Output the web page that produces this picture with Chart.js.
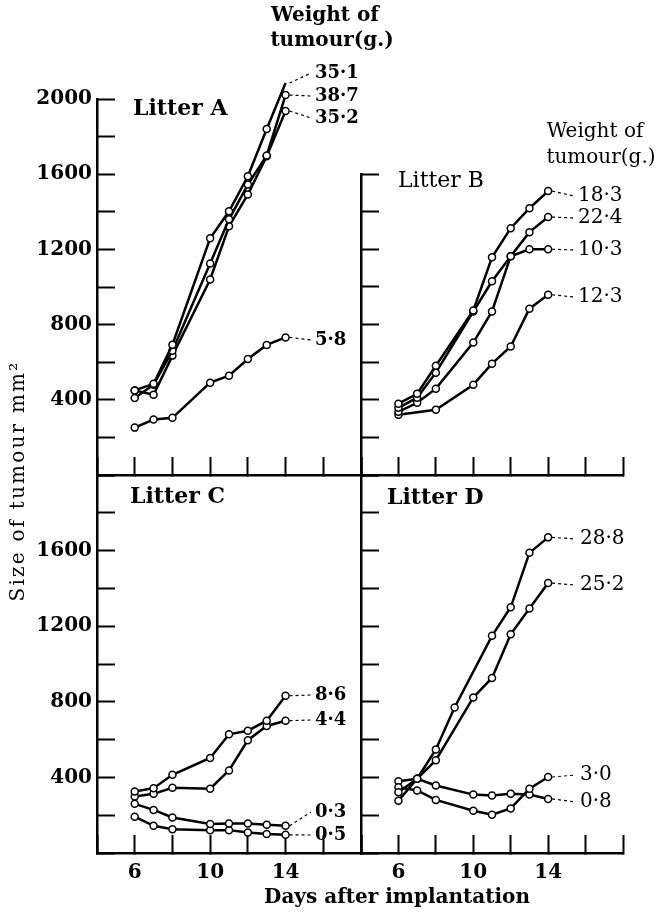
<!DOCTYPE html>
<html>
<head>
<meta charset="utf-8">
<script src="https://cdn.jsdelivr.net/npm/chart.js@4/dist/chart.umd.min.js"></script>
<style>
  html, body { margin: 0; padding: 0; background: #fff; }
  #wrap { position: relative; width: 659px; height: 912px; }
  #wrap canvas { position: absolute; left: 0; top: 0; }
</style>
</head>
<body>
<div id="wrap">
  <canvas id="cA" width="659" height="912"></canvas>
  <canvas id="cB" width="659" height="912"></canvas>
  <canvas id="cC" width="659" height="912"></canvas>
  <canvas id="cD" width="659" height="912"></canvas>
</div>
<script>
// days after implantation (null = no reading that day)
var days = [6, 7, 8, 9, 10, 11, 12, 13, 14];

// Litter A
var a351 = [450, 485, 693, null, 1259, 1403, 1589, 1840, 2085];
var a387 = [410, 480, 661, null, 1125, 1360, 1545, 1700, 2021];
var a352 = [450, 427, 635, null, 1040, 1323, 1492, 1696, 1936];
var a58  = [252, 295, 304, null, 491, 528, 617, 692, 732];
var weightsA = ['35·1', '38·7', '35·2', '5·8'];

// Litter B
var b183 = [379, 432, 581, null, 875, 1157, 1312, 1418, 1509];
var b224 = [357, 411, 544, null, 869, 1030, 1163, 1291, 1371];
var b103 = [336, 384, 459, null, 704, 869, 1163, 1200, 1200];
var b123 = [320, null, 347, null, 480, 592, 683, 884, 958];
var weightsB = ['18·3', '22·4', '10·3', '12·3'];

// Litter C
var c86 = [325, 343, 414, null, 503, 628, 647, 700, 832];
var c44 = [299, 313, 345, null, 340, 437, 597, 672, 700];
var c03 = [260, 228, 188, null, 153, 156, 156, 149, 144];
var c05 = [192, 144, 126, null, 121, 121, 108, 100, 96];
var weightsC = ['8·6', '4·4', '0·3', '0·5'];

// Litter D
var d288 = [277, 393, 548, 770, null, 1149, 1300, 1588, 1670];
var d252 = [322, 393, 491, null, 823, 926, 1157, 1294, 1428];
var d30  = [348, 331, 281, null, 224, 203, 236, 340, 402];
var d08  = [380, 393, 357, null, 309, 304, 313, 309, 286];
var weightsD = ['28·8', '25·2', '3·0', '0·8'];

var xLabelled = [6, 10, 14];

var SERIF = '"DejaVu Serif"';

function text(ctx, s, x, y, font, align, spacing) {
    ctx.save();
    ctx.font = font;
    ctx.fillStyle = '#000';
    ctx.textAlign = align || 'left';
    ctx.textBaseline = 'middle';
    if (spacing) ctx.letterSpacing = spacing;
    ctx.fillText(s, x, y);
    ctx.restore();
}

var panels = [
    { id: 'cA', box: { left: 97, top: 99, right: 361, bottom: 475 }, yMax: 2000, yLab: true, xLab: false,
      series: [a351, a387, a352, a58], weights: weightsA, labX: 315, labY: [73, 96, 118, 340],
      labFont: 'bold 18px ' + SERIF, title: 'Litter A', tx: 133, ty: 109, tFont: 'bold 22px ' + SERIF,
      extra: function (ctx) {
          text(ctx, 'Weight of', 325, 16, 'bold 20px ' + SERIF, 'center');
          text(ctx, 'tumour(g.)', 332, 41, 'bold 20px ' + SERIF, 'center');
      } },
    { id: 'cB', box: { left: 361, top: 174, right: 623, bottom: 475 }, yMax: 1600, yLab: false, xLab: false,
      series: [b183, b224, b103, b123], weights: weightsB, labX: 578, labY: [196, 218, 250, 297],
      labFont: '20px ' + SERIF, title: 'Litter B', tx: 398, ty: 181, tFont: '22px ' + SERIF,
      extra: function (ctx) {
          text(ctx, 'Weight of', 595, 132, '20px ' + SERIF, 'center');
          text(ctx, 'tumour(g.)', 601, 158, '20px ' + SERIF, 'center');
      } },
    { id: 'cC', box: { left: 97, top: 475, right: 361, bottom: 853 }, yMax: 2000, yLab: true, xLab: true,
      series: [c86, c44, c03, c05], weights: weightsC, labX: 315, labY: [695, 720, 812, 835],
      labFont: 'bold 18px ' + SERIF, title: 'Litter C', tx: 130, ty: 497, tFont: 'bold 22px ' + SERIF,
      extra: function (ctx) {
          ctx.save();
          ctx.translate(19, 481);
          ctx.rotate(-Math.PI / 2);
          text(ctx, 'Size of tumour mm²', 0, 0, '20px ' + SERIF, 'center', '2.2px');
          ctx.restore();
      } },
    { id: 'cD', box: { left: 361, top: 475, right: 623, bottom: 853 }, yMax: 2000, yLab: false, xLab: true,
      series: [d288, d252, d30, d08], weights: weightsD, labX: 580, labY: [539, 585, 775, 802],
      labFont: '20px ' + SERIF, title: 'Litter D', tx: 387, ty: 498, tFont: 'bold 22px ' + SERIF,
      extra: function (ctx) {
          text(ctx, 'Days after implantation', 397, 898, 'bold 20px ' + SERIF, 'center');
      } }
];

panels.forEach(function (p) {
    var datasets = p.series.map(function (vals) {
        return {
            data: days.map(function (d, i) { return { x: d, y: vals[i] }; }),
            borderColor: '#000',
            borderWidth: 2.5,
            pointRadius: 3.5,
            pointBackgroundColor: '#fff',
            pointBorderColor: '#000',
            pointBorderWidth: 1.5,
            spanGaps: true,
            tension: 0,
            clip: false
        };
    });

    var labels = {
        id: 'labels',
        afterDatasetsDraw: function (chart) {
            var ctx = chart.ctx;
            p.series.forEach(function (vals, si) {
                var pts = chart.getDatasetMeta(si).data;
                var last = pts[pts.length - 1];
                ctx.save();
                ctx.strokeStyle = '#000';
                ctx.lineWidth = 1.2;
                ctx.setLineDash([3, 3]);
                ctx.beginPath();
                ctx.moveTo(last.x + 4, last.y);
                ctx.lineTo(p.labX - 4, p.labY[si]);
                ctx.stroke();
                ctx.restore();
                text(ctx, p.weights[si], p.labX, p.labY[si], p.labFont, 'left');
            });
            text(ctx, p.title, p.tx, p.ty, p.tFont, 'left');
            p.extra(ctx);
        }
    };

    var tickFont = { family: 'DejaVu Serif', weight: 'bold', size: 20 };

    new Chart(document.getElementById(p.id), {
        type: 'line',
        data: { datasets: datasets },
        plugins: [labels],
        options: {
            responsive: false,
            animation: false,
            events: [],
            layout: {
                padding: { left: p.box.left - 97, top: p.box.top, right: 659 - p.box.right, bottom: 912 - p.box.bottom - 60 }
            },
            plugins: { legend: { display: false }, tooltip: { enabled: false } },
            scales: {
                x: {
                    type: 'linear', min: 4, max: 18,
                    afterFit: function (s) { s.height = 60; },
                    ticks: {
                        stepSize: 2, autoSkip: false, maxRotation: 0, padding: 26, color: '#000', font: tickFont,
                        callback: function (v) { return (p.xLab && xLabelled.indexOf(v) >= 0) ? String(v) : ''; }
                    },
                    grid: { drawOnChartArea: false, drawTicks: true, tickLength: -18, tickWidth: 2, tickColor: '#000' },
                    border: { display: true, color: '#000', width: 2.5 }
                },
                y: {
                    min: 0, max: p.yMax,
                    afterFit: function (s) { s.width = 97; },
                    ticks: {
                        stepSize: 200, autoSkip: false, padding: 23, color: '#000', font: tickFont,
                        callback: function (v) {
                            return (p.yLab && v > 0 && v % 400 === 0 && !(p.id === 'cC' && v === 2000)) ? String(v) : '';
                        }
                    },
                    grid: { drawOnChartArea: false, drawTicks: true, tickLength: -18, tickWidth: 2, tickColor: '#000' },
                    border: { display: true, color: '#000', width: 2.5 }
                }
            }
        }
    });
});
</script>
</body>
</html>
